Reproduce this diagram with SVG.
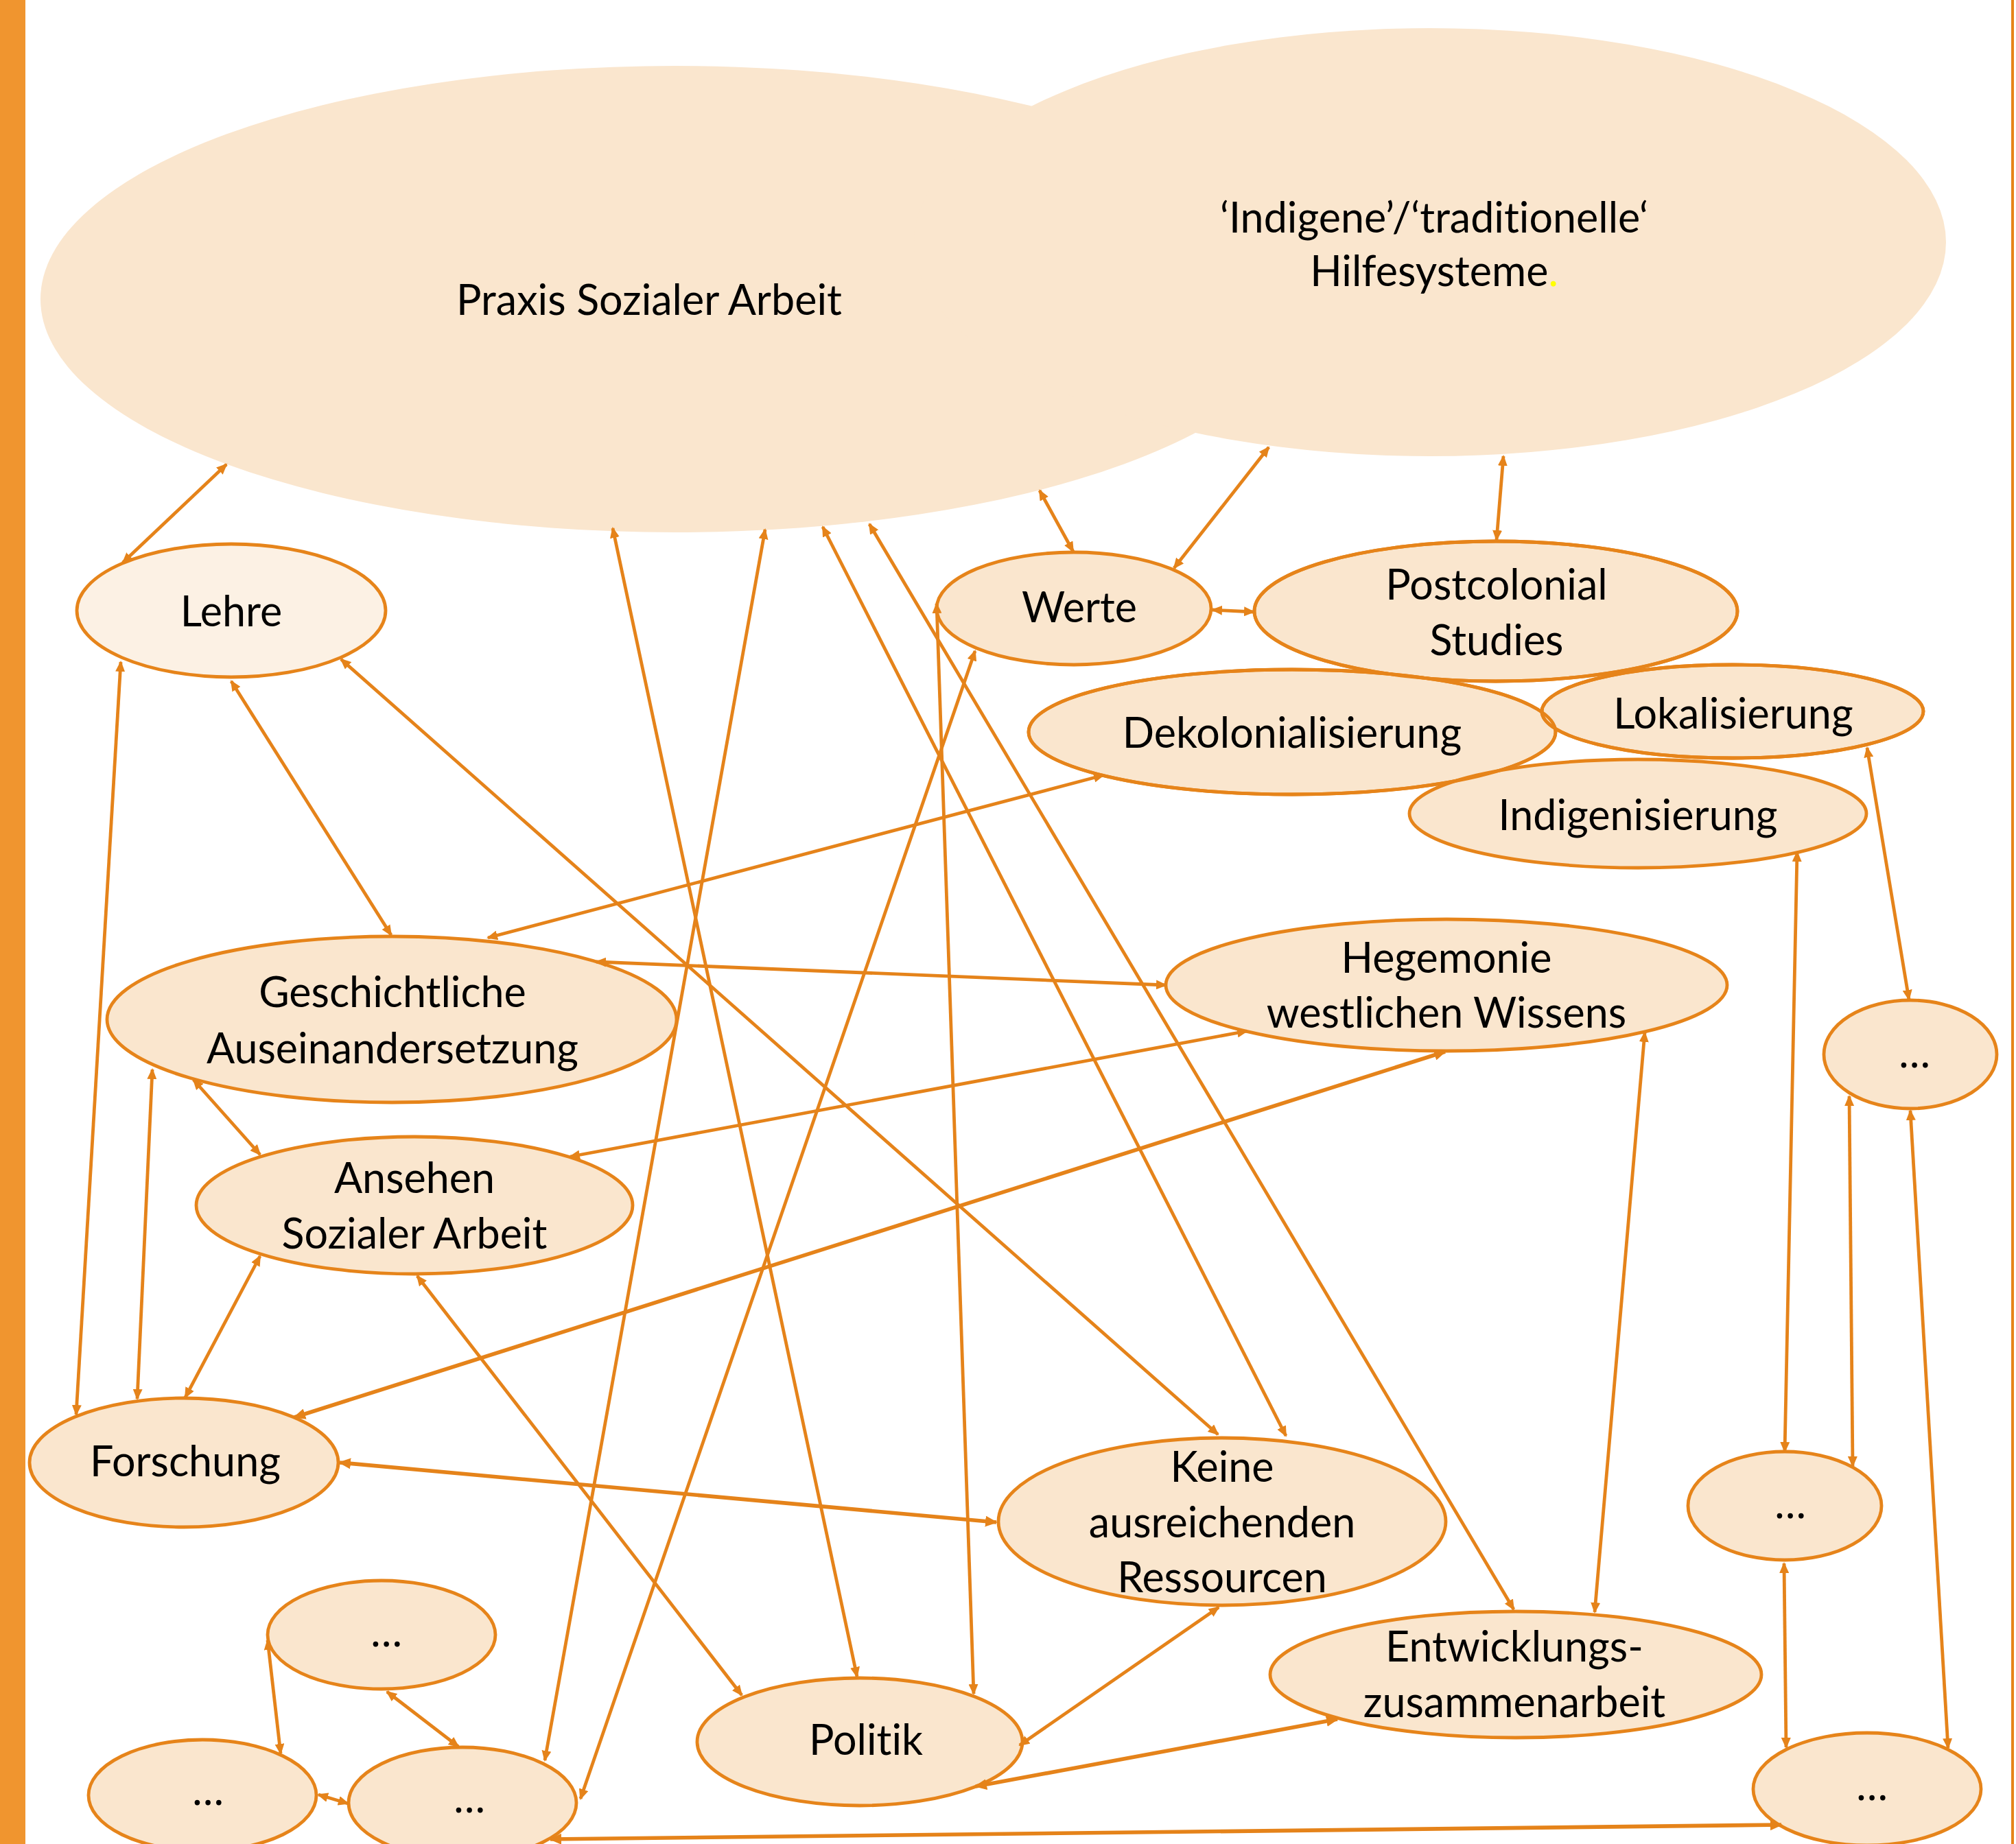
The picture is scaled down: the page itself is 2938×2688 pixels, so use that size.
<svg xmlns="http://www.w3.org/2000/svg" width="2938" height="2688" viewBox="0 0 2938 2688">
<style>
.big{fill:#FAE6CE;stroke:none}
.n{fill:#FAE6CE;stroke:#E6841A;stroke-width:4.8}
.nl{fill:#FCF1E4;stroke:#E6841A;stroke-width:4.8}
.o{fill:none;stroke:#E6841A;stroke-width:4.8}
text{font-family:Lato,"Liberation Sans",sans-serif;font-size:61px;fill:#000;text-anchor:middle;font-variant-ligatures:none;font-feature-settings:"liga" 0,"clig" 0}
.c line{stroke:#E5831A;stroke-width:4.8;marker-start:url(#ah);marker-end:url(#ah)}
.c line.t{stroke-width:5.6;marker-start:url(#ah2);marker-end:url(#ah2)}
</style>
<defs>
<marker id="ah" viewBox="0 0 16 14" refX="14" refY="7" markerWidth="16" markerHeight="14" markerUnits="userSpaceOnUse" orient="auto-start-reverse"><path d="M0,0 L16,7 L0,14 z" fill="#E5831A"/></marker>
<marker id="ah2" viewBox="0 0 18 16" refX="16" refY="8" markerWidth="18" markerHeight="16" markerUnits="userSpaceOnUse" orient="auto-start-reverse"><path d="M0,0 L18,8 L0,16 z" fill="#E5831A"/></marker>
</defs>
<rect x="0" y="0" width="2938" height="2688" fill="#fff"/>
<rect x="0" y="0" width="37" height="2688" fill="#F0952F"/>
<rect x="2931" y="0" width="4" height="2688" fill="#E6841A"/>

<g id="praxis"><ellipse class="big" cx="984" cy="436" rx="925" ry="340"/><text x="946" y="459">Praxis Sozialer Arbeit</text></g>
<g id="indigene"><ellipse class="big" cx="2084" cy="353" rx="752" ry="312"/><text x="2090" y="339">‘Indigene’/‘traditionelle‘</text><text x="2090" y="417">Hilfesysteme<tspan fill="#FFFF00">.</tspan></text></g>

<g id="lehre"><ellipse class="nl" cx="337" cy="890" rx="225" ry="97"/><text x="337" y="913">Lehre</text></g>
<g id="werte"><ellipse class="n" cx="1565" cy="887" rx="200" ry="82"/><text x="1573" y="907">Werte</text></g>
<g id="postcolonial"><ellipse class="n" cx="2180" cy="891" rx="352" ry="102"/><text x="2181" y="874">Postcolonial</text><text x="2181" y="955">Studies</text></g>
<g id="dekolonialisierung"><ellipse class="n" cx="1883" cy="1067" rx="384" ry="91"/><text x="1883" y="1090">Dekolonialisierung</text></g>
<g id="lokalisierung"><ellipse class="n" cx="2525" cy="1037" rx="278" ry="68"/><text x="2526" y="1062">Lokalisierung</text></g>
<g id="indigenisierung"><ellipse class="n" cx="2387" cy="1186" rx="333" ry="79"/><text x="2387" y="1210">Indigenisierung</text></g>
<g id="outlines"><ellipse class="o" cx="2180" cy="891" rx="352" ry="102"/><ellipse class="o" cx="1883" cy="1067" rx="384" ry="91"/><ellipse class="o" cx="2525" cy="1037" rx="278" ry="68"/></g>
<g id="geschichtliche"><ellipse class="n" cx="571" cy="1486" rx="415" ry="121"/><text x="572" y="1468">Geschichtliche</text><text x="572" y="1550">Auseinandersetzung</text></g>
<g id="hegemonie"><ellipse class="n" cx="2108" cy="1436" rx="409" ry="96"/><text x="2108" y="1418">Hegemonie</text><text x="2108" y="1498">westlichen Wissens</text></g>
<g id="ansehen"><ellipse class="n" cx="604" cy="1757" rx="318" ry="100"/><text x="604" y="1739">Ansehen</text><text x="604" y="1820">Sozialer Arbeit</text></g>
<g id="dots1"><ellipse class="n" cx="2784" cy="1537" rx="126" ry="79"/><text x="2790" y="1556">…</text></g>
<g id="forschung"><ellipse class="n" cx="268" cy="2132" rx="225" ry="94"/><text x="270" y="2152">Forschung</text></g>
<g id="keine"><ellipse class="n" cx="1781" cy="2218" rx="326" ry="122"/><text x="1781" y="2160">Keine</text><text x="1781" y="2241">ausreichenden</text><text x="1781" y="2321">Ressourcen</text></g>
<g id="dots2"><ellipse class="n" cx="2601" cy="2195" rx="141" ry="79"/><text x="2609" y="2213">…</text></g>
<g id="entwicklung"><ellipse class="n" cx="2209" cy="2441" rx="358" ry="92"/><text x="2207" y="2422">Entwicklungs-</text><text x="2207" y="2503">zusammenarbeit</text></g>
<g id="dots3"><ellipse class="n" cx="556" cy="2383" rx="166" ry="79"/><text x="563" y="2400">…</text></g>
<g id="dots4"><ellipse class="n" cx="295" cy="2617" rx="166" ry="81"/><text x="303" y="2631">…</text></g>
<g id="dots5"><ellipse class="n" cx="674" cy="2628" rx="166" ry="81"/><text x="684" y="2642">…</text></g>
<g id="politik"><ellipse class="n" cx="1253" cy="2539" rx="237" ry="93"/><text x="1262" y="2558">Politik</text></g>
<g id="dots6"><ellipse class="n" cx="2721" cy="2608" rx="166" ry="82"/><text x="2728" y="2624">…</text></g>

<g id="connectors" class="c">
<line x1="330" y1="677" x2="179" y2="820"/>
<line x1="893" y1="770" x2="1249" y2="2444"/>
<line x1="1115" y1="772" x2="794" y2="2566"/>
<line x1="1199" y1="768" x2="1874" y2="2093"/>
<line x1="1267" y1="764" x2="2206" y2="2346"/>
<line x1="1515" y1="715" x2="1564" y2="804"/>
<line x1="1849" y1="652" x2="1711" y2="828"/>
<line x1="2191" y1="665" x2="2181" y2="787"/>
<line x1="1767" y1="889" x2="1827" y2="892"/>
<line x1="497" y1="961" x2="1775" y2="2091"/>
<line x1="337" y1="993" x2="570" y2="1363"/>
<line x1="176" y1="965" x2="111" y2="2062"/>
<line x1="1608" y1="1130" x2="711" y2="1367"/>
<line x1="869" y1="1402" x2="1699" y2="1436"/>
<line x1="1817" y1="1503" x2="831" y2="1686"/>
<line class="t" x1="2106" y1="1533" x2="429" y2="2066"/>
<line x1="222" y1="1559" x2="200" y2="2039"/>
<line x1="282" y1="1574" x2="379" y2="1683"/>
<line x1="379" y1="1831" x2="270" y2="2037"/>
<line x1="608" y1="1860" x2="1081" y2="2471"/>
<line class="t" x1="495" y1="2132" x2="1452" y2="2219"/>
<line x1="1365" y1="880" x2="1419" y2="2469"/>
<line x1="1421" y1="949" x2="846" y2="2622"/>
<line x1="2397" y1="1505" x2="2324" y2="2350"/>
<line x1="1776" y1="2343" x2="1486" y2="2544"/>
<line class="t" x1="1949" y1="2506" x2="1422" y2="2604"/>
<line x1="2721" y1="1090" x2="2782" y2="1457"/>
<line x1="2619" y1="1242" x2="2601" y2="2116"/>
<line x1="2695" y1="1598" x2="2700" y2="2137"/>
<line x1="2784" y1="1619" x2="2839" y2="2548"/>
<line x1="2600" y1="2279" x2="2603" y2="2547"/>
<line class="t" x1="802" y1="2681" x2="2596" y2="2660"/>
<line x1="390" y1="2391" x2="409" y2="2556"/>
<line x1="564" y1="2466" x2="668" y2="2546"/>
<line x1="464" y1="2616" x2="507" y2="2629"/>
</g>
</svg>
